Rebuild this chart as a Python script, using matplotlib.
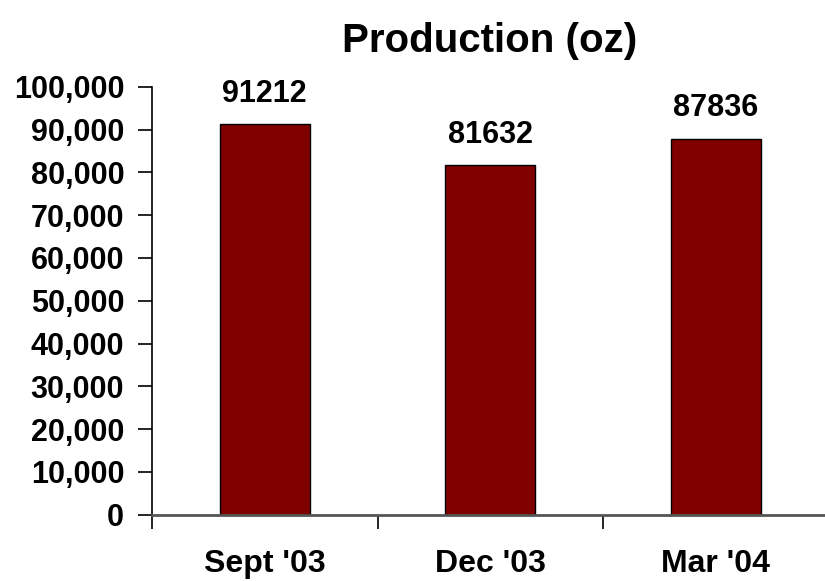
import matplotlib
matplotlib.use("Agg")
import matplotlib.pyplot as plt
from matplotlib.ticker import FuncFormatter

categories = ["Sept '03", "Dec '03", "Mar '04"]
values = [91212, 81632, 87836]
title = "Production (oz)"

plt.rcParams['font.family'] = ['Liberation Sans', 'DejaVu Sans']
plt.rcParams['font.weight'] = 'bold'

fig = plt.figure(figsize=(8.25, 5.81), dpi=100)
ax = fig.add_axes([152/825, (581-514.7)/581, (828.5-152)/825, (514.7-86.7)/581])

x = list(range(len(categories)))
bars = ax.bar(x, values, width=0.40, color='#800000', edgecolor='black', linewidth=1.0, zorder=3)

ax.set_xlim(-0.5, len(categories) - 0.5)
ax.set_ylim(0, 100000)
ax.set_yticks(range(0, 100001, 10000))
ax.yaxis.set_major_formatter(FuncFormatter(lambda v, p: f"{int(v):,}"))

ax.set_xticks(x)
ax.set_xticklabels(categories)
ax.set_xticks([-0.5, 0.5, 1.5], minor=True)
ax.tick_params(axis='x', which='major', length=0, pad=25, labelsize=23)
ax.tick_params(axis='x', which='minor', length=10, width=1.2, color='black', direction='out')
ax.tick_params(axis='y', length=10, width=1.2, direction='out', labelsize=22, pad=10)
for lab in ax.get_xticklabels() + ax.get_yticklabels():
    lab.set_fontweight('bold')

ax.spines['top'].set_visible(False)
ax.spines['right'].set_visible(False)
ax.spines['left'].set_color('black')
ax.spines['left'].set_linewidth(1.2)
ax.spines['bottom'].set_color('#555555')
ax.spines['bottom'].set_linewidth(2.0)
ax.spines['bottom'].set_zorder(4)

for xi, v in zip(x, values):
    ax.annotate(f"{v}", (xi, v), xytext=(0, 11), textcoords='offset points',
                ha='center', va='bottom', fontsize=22, fontweight='bold')

fig.text(490/825, 1 - 41/581, title, ha='center', va='center', fontsize=29, fontweight='bold')

fig.savefig("out.png", dpi=100)
